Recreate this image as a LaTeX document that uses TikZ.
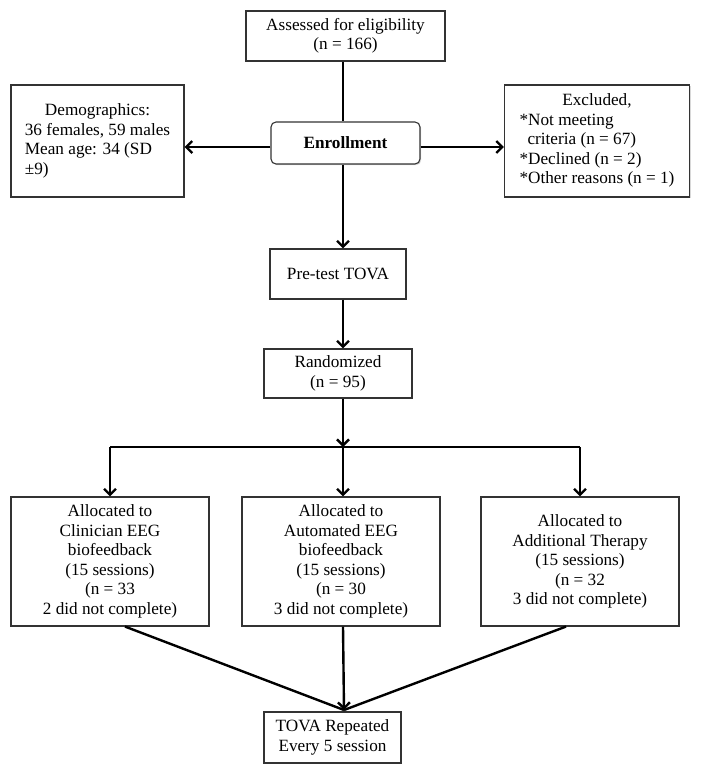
\documentclass[tikz,border=0pt]{standalone}
\usepackage{fontspec}
\setmainfont{Liberation Serif}
\usetikzlibrary{arrows.meta,shadows}
\begin{document}
\begin{tikzpicture}[x=1pt,y=-1pt,
  box/.style={draw=black!80, line width=1.1pt, fill=white, inner sep=0pt, align=center,
    font=\fontsize{17.2}{19.5}\selectfont,
    drop shadow={shadow xshift=1.2pt,shadow yshift=-1.2pt,fill=black!30}},
  conn/.style={line width=2.4pt, black},
  arr/.style={conn, -{Straight Barb[length=6pt,width=12pt]}}]
\useasboundingbox (0,0) rectangle (701,774);

% nodes
\node[box, minimum width=199pt, minimum height=50pt] (ass) at (345.5,36)
  {Assessed for eligibility\\(n = 166)};
\node[box, minimum width=173pt, minimum height=112pt] (demo) at (97.5,141)
  {\begin{tabular}{@{}l@{}}\multicolumn{1}{@{}c@{}}{Demographics:}\\36 females, 59 males\\Mean age: 34 (SD\\±9)\end{tabular}};
\node[box, rounded corners=5pt, minimum width=149pt, minimum height=42pt, font=\fontsize{17.2}{19.5}\selectfont\bfseries] (enr) at (345.5,143)
  {Enrollment};
\node[box, minimum width=185pt, minimum height=112pt] (exc) at (597,141)
  {\begin{tabular}{@{}l@{}}\multicolumn{1}{@{}c@{}}{Excluded,}\\{*}Not meeting\\\hspace{8pt}criteria (n = 67)\\{*}Declined (n = 2)\\{*}Other reasons (n = 1)\end{tabular}};
\node[box, minimum width=136pt, minimum height=50pt] (pre) at (338,274)
  {Pre-test TOVA};
\node[box, minimum width=148pt, minimum height=49pt] (rand) at (338,373.5)
  {Randomized\\(n = 95)};
\node[box, minimum width=198pt, minimum height=129pt] (b1) at (110,561.5)
  {Allocated to\\Clinician EEG\\biofeedback\\(15 sessions)\\(n = 33\\2 did not complete)};
\node[box, minimum width=198pt, minimum height=129pt] (b2) at (341,561.5)
  {Allocated to\\Automated EEG\\biofeedback\\(15 sessions)\\(n = 30\\3 did not complete)};
\node[box, minimum width=198pt, minimum height=129pt] (b3) at (580,561.5)
  {Allocated to\\Additional Therapy\\(15 sessions)\\(n = 32\\3 did not complete)};
\node[box, minimum width=137pt, minimum height=51pt] (tova) at (332.5,737.5)
  {TOVA Repeated\\Every 5 session};

% helper coordinates
\coordinate (sp) at (343,0);
\coordinate (ay) at (0,147);
\coordinate (j) at (343,447);
\coordinate (cv) at (344,710);

% connectors
\draw[conn] (ass.south -| sp) -- (enr.north -| sp);
\draw[arr] (enr.south -| sp) -- (pre.north -| sp);
\draw[arr] (enr.west |- ay) -- (demo.east |- ay);
\draw[arr] (enr.east |- ay) -- (exc.west |- ay);
\draw[arr] (pre.south -| sp) -- (rand.north -| sp);
\draw[arr] (rand.south -| sp) -- (j);
\draw[conn] (b1.north |- j) -- (b3.north |- j);
\draw[arr] (b1.north |- j) -- (b1.north);
\draw[arr] (j) -- (b2.north -| sp);
\draw[arr] (b3.north |- j) -- (b3.north);
\draw[conn] ([xshift=15pt]b1.south) -- (cv);
\draw[conn] ([xshift=-14pt]b3.south) -- (cv);
\draw[arr] (b2.south -| sp) -- (cv);
\end{tikzpicture}
\end{document}
